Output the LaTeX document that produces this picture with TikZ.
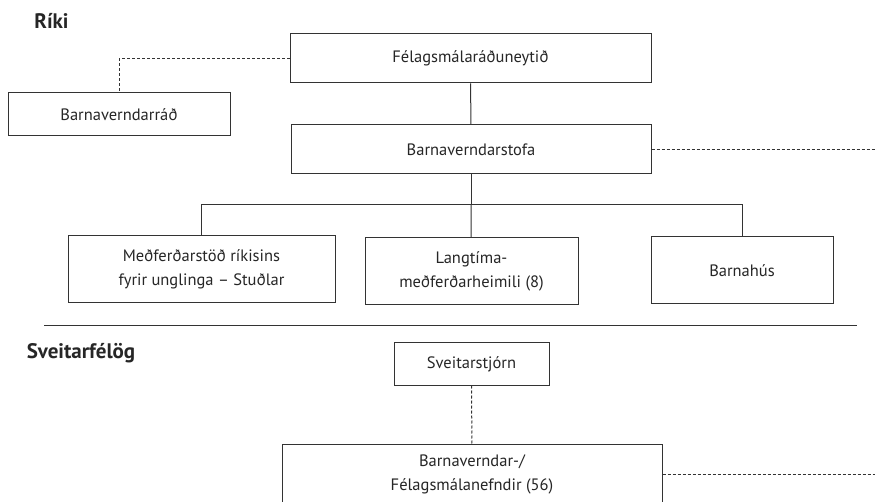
\documentclass[tikz,border=0pt]{standalone}
\usepackage{fontspec}
\setmainfont{PT Sans}
\usepackage{tikz}
\usetikzlibrary{positioning}

\begin{document}
\begin{tikzpicture}[x=1pt,y=-1pt]
	\clip (0,0) rectangle (875,502);
	\fill[white] (0,0) rectangle (875,502);
	\begin{scope}[every node/.style={draw=black!80,line width=1pt,inner sep=0pt,align=center,
	              font=\fontsize{16.5}{24}\selectfont,text=black!85}]
		\node[minimum width=361,minimum height=49] (fel) at (470.5,58.5) {Félagsmálaráðuneytið};
		\node[minimum width=222,minimum height=43] (bvr) at (119,114.5) {Barnaverndarráð};
		\node[minimum width=360,minimum height=49] (bvs) at (471,149.5) {Barnaverndarstofa};
		\node[minimum width=267,minimum height=67] (med) at (201.5,269.5) {Meðferðarstöð ríkisins\\fyrir unglinga – Stuðlar};
		\node[minimum width=213,minimum height=67] (lang) at (471.5,271.5) {Langtíma-\\meðferðarheimili (8)};
		\node[minimum width=182,minimum height=67] (hus) at (742,270.5) {Barnahús};
		\node[minimum width=155,minimum height=42] (sveit) at (471.5,364) {Sveitarstjórn};
		\node[minimum width=380,minimum height=60] (nefnd) at (472,474) {Barnaverndar-/\\Félagsmálanefndir (56)};
	\end{scope}

	\node[font=\fontsize{21}{24}\selectfont\bfseries,text=black!85] (riki) at (51.5,21) {Ríki};
	\node[font=\fontsize{21}{24}\selectfont\bfseries,text=black!85] (sveitlab) at (81,353) {Sveitarfélög};

	\coordinate (split) at (471,205);
	\coordinate (bvsend) at (875,149.5);
	\coordinate (nefndend) at (875,474);
	\coordinate (sepl) at (44,326);
	\coordinate (sepr) at (857,326);

	\begin{scope}[draw=black!80,line width=1pt]
		\draw (fel) -- (bvs);
		\draw (bvs) -- (split);
		\draw (split) -| (med);
		\draw (split) -- (lang);
		\draw (split) -| (hus);
		\draw (sepl) -- (sepr);
	\end{scope}

	\begin{scope}[draw=black!80,line width=1pt,dash pattern=on 3pt off 2pt]
		\draw (fel.west) -| (bvr);
		\draw (bvs) -- (bvsend);
		\draw (sveit) -- (nefnd);
		\draw (nefnd) -- (nefndend);
	\end{scope}
\end{tikzpicture}
\end{document}
